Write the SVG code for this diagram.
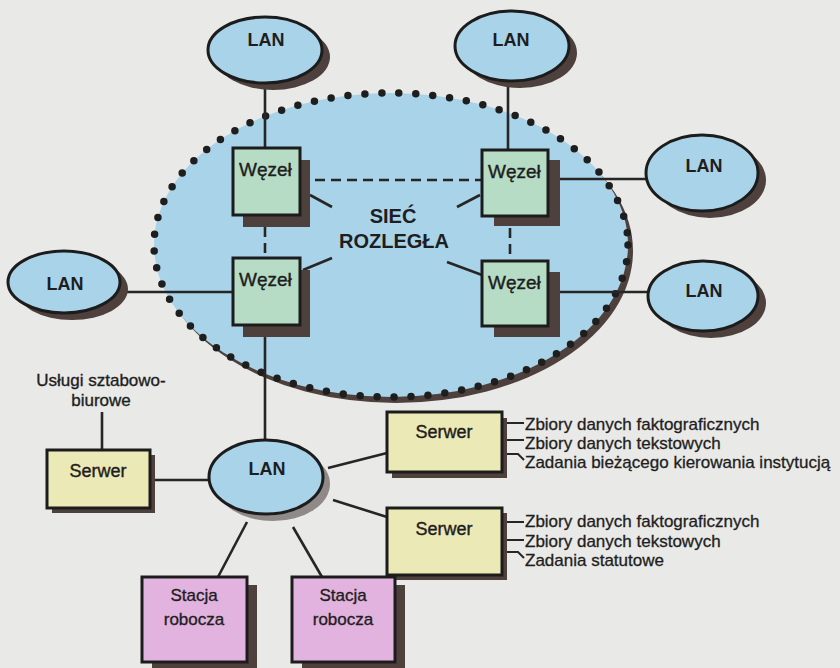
<svg xmlns="http://www.w3.org/2000/svg" width="840" height="668" viewBox="0 0 840 668">
  <style>
    text { font-family: "Liberation Sans", Arial, sans-serif; fill: #1e1e1e; }
    .lan-t { font-size: 18px; font-weight: bold; text-anchor: middle; }
    .wan-t { font-size: 20px; font-weight: bold; text-anchor: middle; }
    .node-t { font-size: 19px; stroke: #1e1e1e; stroke-width: 0.4; }
    .box-t { font-size: 18px; text-anchor: middle; stroke: #1e1e1e; stroke-width: 0.4; }
    .ws-t { font-size: 17px; text-anchor: middle; stroke: #1e1e1e; stroke-width: 0.35; }
    .note { font-size: 17px; stroke: #1e1e1e; stroke-width: 0.3; }
    .shadow { fill: #4e403c; }
    .lan { fill: #a9d3e9; stroke: #1c1c1c; stroke-width: 3; }
    .wezel { fill: #b6dcc6; stroke: #1c1c1c; stroke-width: 3; }
    .serwer { fill: #ebe9b6; stroke: #1c1c1c; stroke-width: 3; }
    .stacja { fill: #e3b3df; stroke: #1c1c1c; stroke-width: 3; }
    .link { fill: none; stroke: #262626; stroke-width: 2.6; }
    .dash { fill: none; stroke: #262626; stroke-width: 2.6; stroke-dasharray: 10 6; }
    .tick { fill: none; stroke: #262626; stroke-width: 2; }
  </style>

  <!-- page -->
  <rect width="840" height="668" fill="#e9e9e7"/>

  <!-- wide area network cloud -->
  <g id="wan">
    <ellipse class="shadow" cx="396" cy="251" rx="237" ry="152"/>
    <ellipse cx="391" cy="245" rx="237" ry="152" fill="#a9d3e9"/>
    <ellipse cx="391" cy="245" rx="237" ry="152" fill="none" stroke="#1e1e1e" stroke-width="7.5" stroke-linecap="round" stroke-dasharray="0 17"/>
    <text class="wan-t" x="393" y="223">SIEĆ</text>
    <text class="wan-t" x="394" y="248">ROZLEGŁA</text>
  </g>

  <!-- connectors -->
  <g id="connectors">
    <path class="link" d="M265 83 V148"/>
    <path class="link" d="M508 82 V150"/>
    <path class="link" d="M548 179 H647"/>
    <path class="link" d="M548 292 H648"/>
    <path class="link" d="M120 292 H233"/>
    <path class="link" d="M265 325 V440"/>
    <path class="dash" d="M315 180 H482"/>
    <path class="dash" d="M265 227 V258"/>
    <path class="dash" d="M510 228 V261"/>
    <path class="link" d="M310 195 L332 207"/>
    <path class="link" d="M457 207 L480 195"/>
    <path class="link" d="M303 270 L332 258"/>
    <path class="link" d="M447 262 L482 275"/>
    <path class="link" d="M155 480 H210"/>
    <path class="link" d="M102 412 V450"/>
    <path class="link" d="M328 468 L387 453"/>
    <path class="link" d="M333 500 L387 517"/>
    <path class="link" d="M247 522 L218 577"/>
    <path class="link" d="M293 527 L322 577"/>
    <path class="tick" d="M504 423 H524 M504 440 H524 M504 454 H518 L524 460"/>
    <path class="tick" d="M504 522 H524 M504 540 H524 M504 552 H518 L524 558"/>
  </g>

  <!-- LANs -->
  <g id="lan-1">
    <ellipse class="shadow" cx="273" cy="57" rx="57" ry="33"/>
    <ellipse class="lan" cx="265" cy="50" rx="57" ry="33"/>
    <text class="lan-t" x="266" y="46">LAN</text>
  </g>
  <g id="lan-2">
    <ellipse class="shadow" cx="520" cy="53" rx="57" ry="35"/>
    <ellipse class="lan" cx="512" cy="46" rx="57" ry="35"/>
    <text class="lan-t" x="511" y="46">LAN</text>
  </g>
  <g id="lan-3">
    <ellipse class="shadow" cx="710" cy="180" rx="56" ry="38"/>
    <ellipse class="lan" cx="702" cy="173" rx="56" ry="38"/>
    <text class="lan-t" x="704" y="172">LAN</text>
  </g>
  <g id="lan-4">
    <ellipse class="shadow" cx="711" cy="303" rx="55" ry="35"/>
    <ellipse class="lan" cx="703" cy="296" rx="55" ry="35"/>
    <text class="lan-t" x="704" y="297">LAN</text>
  </g>
  <g id="lan-5">
    <ellipse class="shadow" cx="72" cy="289" rx="56" ry="31"/>
    <ellipse class="lan" cx="64" cy="282" rx="56" ry="31"/>
    <text class="lan-t" x="65" y="290">LAN</text>
  </g>
  <g id="lan-main">
    <ellipse cx="273" cy="484" rx="57" ry="37" fill="#8f8a88"/>
    <ellipse class="lan" cx="266" cy="477" rx="57" ry="37"/>
    <text class="lan-t" x="267" y="475">LAN</text>
  </g>

  <!-- WAN nodes -->
  <g id="wezel-1">
    <rect class="shadow" x="243" y="160" width="67" height="67"/>
    <rect class="wezel" x="233" y="148" width="67" height="67"/>
    <text class="node-t" x="239" y="176">Węzeł</text>
  </g>
  <g id="wezel-2">
    <rect class="shadow" x="494" y="160" width="66" height="66"/>
    <rect class="wezel" x="482" y="150" width="66" height="66"/>
    <text class="node-t" x="488" y="178">Węzeł</text>
  </g>
  <g id="wezel-3">
    <rect class="shadow" x="243" y="270" width="67" height="67"/>
    <rect class="wezel" x="233" y="258" width="67" height="67"/>
    <text class="node-t" x="239" y="286">Węzeł</text>
  </g>
  <g id="wezel-4">
    <rect class="shadow" x="494" y="272" width="66" height="65"/>
    <rect class="wezel" x="482" y="261" width="66" height="65"/>
    <text class="node-t" x="488" y="289">Węzeł</text>
  </g>

  <!-- servers -->
  <g id="serwer-biuro">
    <text class="ws-t" x="101" y="386">Usługi sztabowo-</text>
    <text class="ws-t" x="101" y="406">biurowe</text>
    <rect class="shadow" x="52" y="455" width="103" height="58"/>
    <rect class="serwer" x="47" y="450" width="103" height="58"/>
    <text class="box-t" x="98" y="477">Serwer</text>
  </g>
  <g id="serwer-1">
    <rect class="shadow" x="392" y="418" width="115" height="60"/>
    <rect class="serwer" x="387" y="412" width="115" height="60"/>
    <text class="box-t" x="444" y="438">Serwer</text>
    <text class="note" x="525" y="430">Zbiory danych faktograficznych</text>
    <text class="note" x="525" y="449">Zbiory danych tekstowych</text>
    <text class="note" x="525" y="468">Zadania bieżącego kierowania instytucją</text>
  </g>
  <g id="serwer-2">
    <rect class="shadow" x="392" y="513" width="115" height="67"/>
    <rect class="serwer" x="387" y="508" width="115" height="67"/>
    <text class="box-t" x="444" y="535">Serwer</text>
    <text class="note" x="525" y="527">Zbiory danych faktograficznych</text>
    <text class="note" x="525" y="547">Zbiory danych tekstowych</text>
    <text class="note" x="525" y="566">Zadania statutowe</text>
  </g>

  <!-- workstations -->
  <g id="stacja-1">
    <rect class="shadow" x="152" y="585" width="105" height="85"/>
    <rect class="stacja" x="142" y="577" width="105" height="85"/>
    <text class="ws-t" x="194" y="601">Stacja</text>
    <text class="ws-t" x="194" y="625">robocza</text>
  </g>
  <g id="stacja-2">
    <rect class="shadow" x="302" y="585" width="103" height="85"/>
    <rect class="stacja" x="292" y="577" width="103" height="85"/>
    <text class="ws-t" x="343" y="601">Stacja</text>
    <text class="ws-t" x="343" y="625">robocza</text>
  </g>
</svg>
